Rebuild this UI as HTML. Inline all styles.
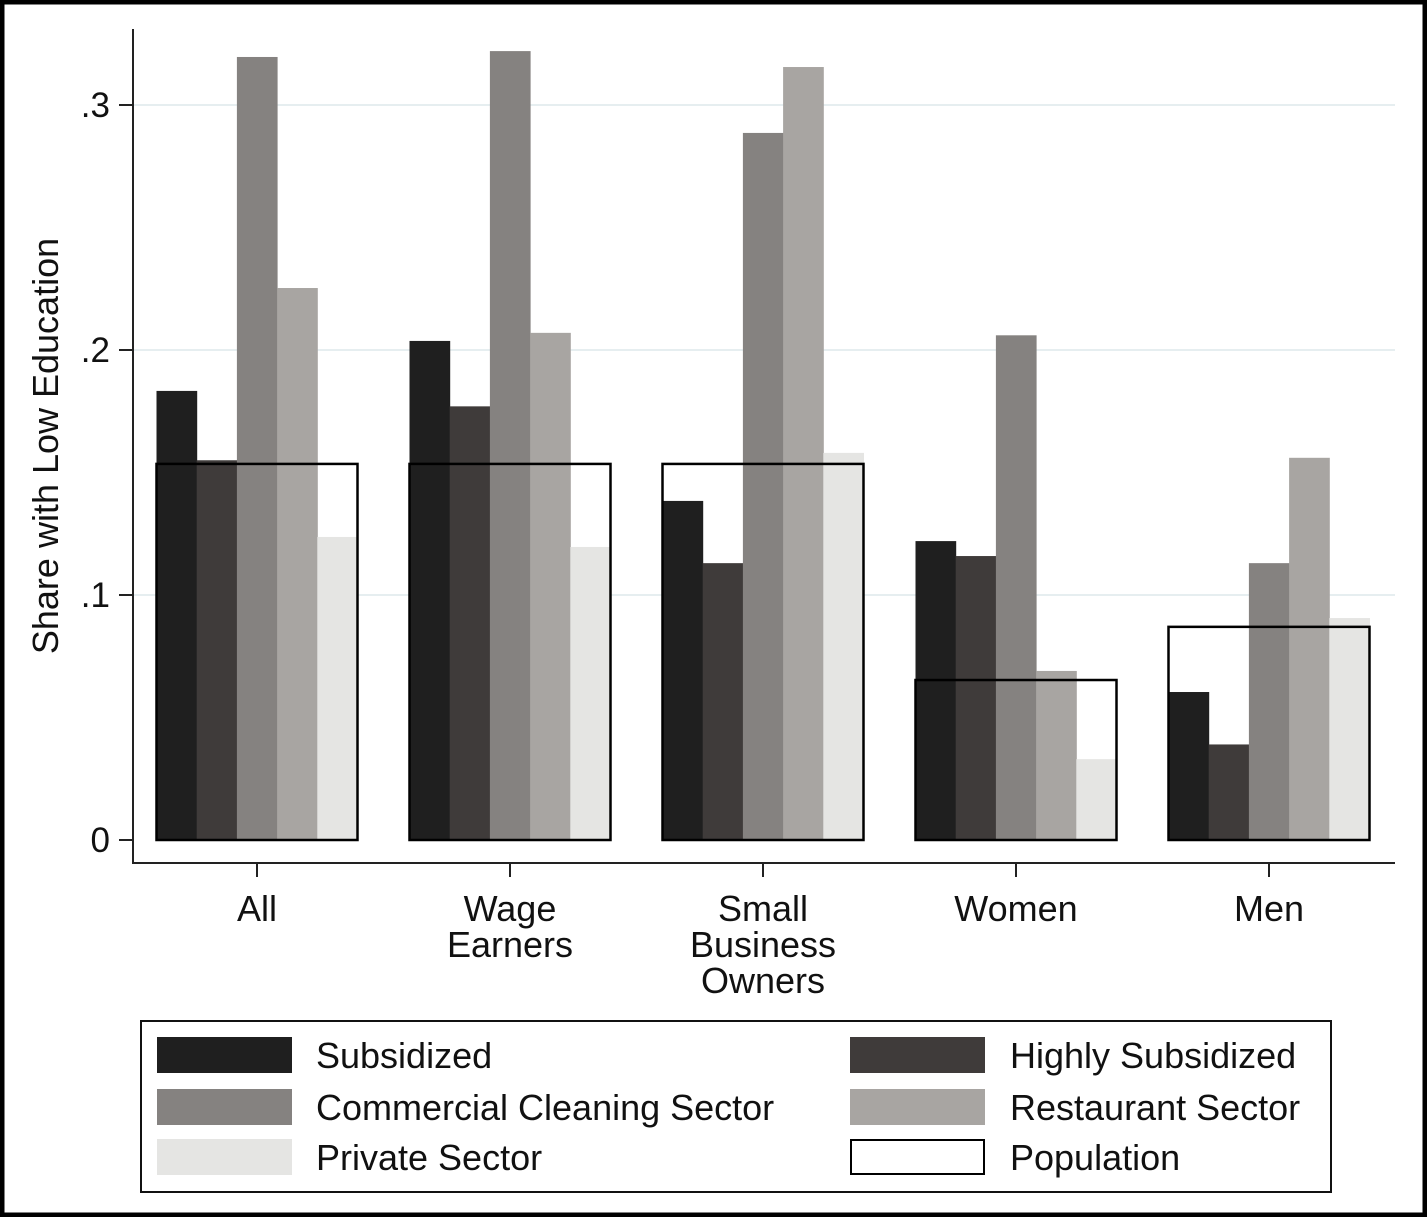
<!DOCTYPE html>
<html><head><meta charset="utf-8"><style>
html,body{margin:0;padding:0;background:#fff}
svg{display:block;font-family:"Liberation Sans",Arial,sans-serif}
</style></head><body>
<svg width="1427" height="1217" viewBox="0 0 1427 1217">
<rect x="2" y="2" width="1423" height="1213" fill="#fff" stroke="#000" stroke-width="5"/>
<g id="grid"></g>
<g id="bars"></g>
<g id="axes"></g>
<text x="58" y="446" font-size="36" text-anchor="middle" transform="rotate(-90 58 446)" fill="#111">Share with Low Education</text>
<g font-size="36">
<rect x="141" y="1021" width="1190" height="171" fill="#fff" stroke="#111" stroke-width="2"/>
<rect x="157" y="1037" width="135" height="36" fill="#1f1f1f"/>
<text x="316" y="1068" fill="#111">Subsidized</text>
<rect x="850" y="1037" width="135" height="36" fill="#3f3b3a"/>
<text x="1010" y="1068" fill="#111">Highly Subsidized</text>
<rect x="157" y="1089" width="135" height="36" fill="#858280"/>
<text x="316" y="1120" fill="#111">Commercial Cleaning Sector</text>
<rect x="850" y="1089" width="135" height="36" fill="#a8a5a2"/>
<text x="1010" y="1120" fill="#111">Restaurant Sector</text>
<rect x="157" y="1139" width="135" height="36" fill="#e5e5e3"/>
<text x="316" y="1170" fill="#111">Private Sector</text>
<rect x="851" y="1140" width="133" height="34" fill="none" stroke="#000" stroke-width="2"/>
<text x="1010" y="1170" fill="#111">Population</text>
</g>
</svg>
<script>
const categories = [["All"],["Wage","Earners"],["Small","Business","Owners"],["Women"],["Men"]];
const seriesNames = ["subsidized","highly-subsidized","cleaning","restaurant","private"];
const subsidized = [0.1833,0.2037,0.1384,0.122,0.0604];
const highlySubsidized = [0.155,0.177,0.113,0.1159,0.039];
const cleaning = [0.3196,0.322,0.2886,0.206,0.113];
const restaurant = [0.2253,0.207,0.3155,0.069,0.156];
const privateSector = [0.1237,0.1196,0.158,0.033,0.0906];
const population = [0.1535,0.1535,0.1535,0.0653,0.087];
const yTicks = [0,0.1,0.2,0.3];
const yTickLabels = ["0",".1",".2",".3"];

const NS="http://www.w3.org/2000/svg";
const colors=["#1f1f1f","#3f3b3a","#858280","#a8a5a2","#e5e5e3"];
const series=[subsidized,highlySubsidized,cleaning,restaurant,privateSector];
function y(v){return 840-v*2450;}
function groupCenter(i){return 257+i*253;}
const barW=40.2;
function mk(tag,attrs,parent){const e=document.createElementNS(NS,tag);for(const k in attrs)e.setAttribute(k,attrs[k]);parent.appendChild(e);return e;}
const grid=document.getElementById('grid'),bars=document.getElementById('bars'),axes=document.getElementById('axes');
yTicks.forEach((t,i)=>{
  if(t>0){const g=mk('line',{x1:134,x2:1395,y1:y(t),y2:y(t),stroke:'#e6eef0','stroke-width':2},grid);
  
  }
  const tk=mk('line',{x1:119,x2:133,y1:y(t),y2:y(t),stroke:'#222','stroke-width':2},axes);
  
  
  const tx=mk('text',{x:110,y:y(t)+12,'font-size':35,'text-anchor':'end',fill:'#111'},axes);
  tx.textContent=yTickLabels[i];
  
  
});
categories.forEach((c,gi)=>{
  const cx=groupCenter(gi),left=cx-2.5*barW;
  series.forEach((s,si)=>{
    const r=mk('rect',{x:left+si*barW,y:y(s[gi]),width:barW+0.5,height:840-y(s[gi]),fill:colors[si]},bars);
    
    
  });
  const p=mk('rect',{x:left,y:y(population[gi]),width:5*barW,height:840-y(population[gi]),fill:'none',stroke:'#000','stroke-width':2.5},bars);
  
  
  const tk=mk('line',{x1:cx,x2:cx,y1:863,y2:877,stroke:'#222','stroke-width':2},axes);
  
  
  c.forEach((line,li)=>{
    const t=mk('text',{x:cx,y:921+li*36,'font-size':36,'text-anchor':'middle',fill:'#111'},axes);
    t.textContent=line;
    
    
  });
});
const ya=mk('line',{x1:133,x2:133,y1:29,y2:864,stroke:'#222','stroke-width':2},axes);


const xa=mk('line',{x1:132,x2:1395,y1:863,y2:863,stroke:'#222','stroke-width':2},axes);


</script>
</body></html>
